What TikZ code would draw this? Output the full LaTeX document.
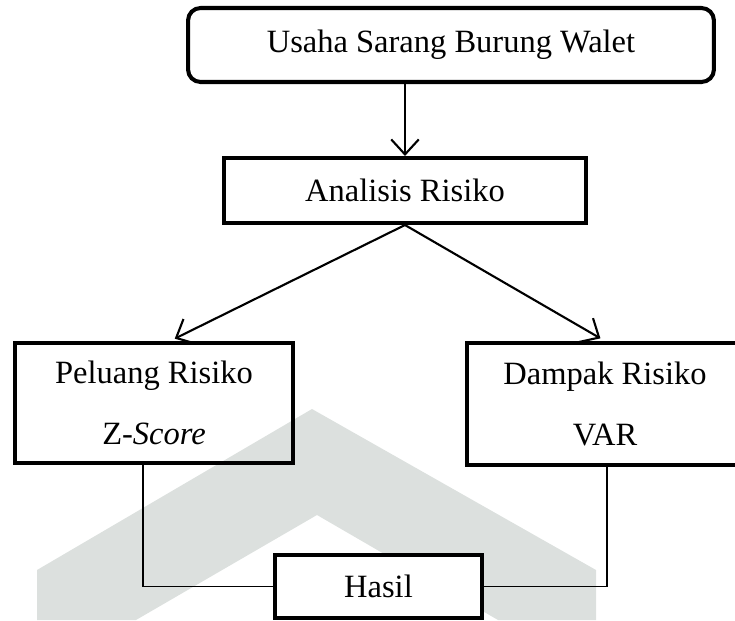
\documentclass[tikz,border=0pt]{standalone}
\usepackage{fontspec}
\setmainfont{Liberation Serif}
\usepackage{tikz}
\usetikzlibrary{arrows.meta}
\definecolor{wmgrey}{RGB}{220,224,222}
\tikzstyle{box} = [draw, line width=2.3pt, fill=white, inner sep=0pt, align=center, font=\fontsize{18.5}{22}\selectfont]
\tikzstyle{arrow} = [line width=1.2pt, -{Straight Barb[length=0.3cm, width=0.55cm, line width=1.2pt]}]
\tikzstyle{link} = [line width=0.6pt]

\begin{document}
\begin{tikzpicture}[x=0.02cm, y=-0.02cm]
		\useasboundingbox (0,0) rectangle (735,620);

		% watermark
		\fill[wmgrey] (312,409) -- (37,570) -- (37,620) -- (136,620) -- (317,515)
			-- (498,620) -- (596,620) -- (596,570) -- cycle;

		\node[box, rounded corners=0.25cm, minimum width=10.52cm, minimum height=1.48cm] (usaha) at (451,45) {Usaha Sarang Burung Walet};
		\node[box, minimum width=7.24cm, minimum height=1.3cm] (analisis) at (405,190.5) {Analisis Risiko};
		\node[box, fill=none, minimum width=5.56cm, minimum height=2.4cm] (peluang) at (154,403) {Peluang Risiko\\[13pt] Z-\textit{Score}};
		\node[box, fill=none, minimum width=5.52cm, minimum height=2.44cm] (dampak) at (605,404) {Dampak Risiko\\[13pt] VAR};
		\node[box, minimum width=4.14cm, minimum height=1.26cm] (hasil) at (378.5,586.5) {Hasil};

		\draw[arrow] (analisis.north |- usaha.south) -- (analisis.north);
		\draw[arrow, shorten >=3pt] (analisis.south) -- ([xshift=0.32cm]peluang.north);
		\draw[arrow, shorten >=3pt] (analisis.south) -- (dampak.north);

		\draw[link] ([xshift=-0.22cm]peluang.south) |- (hasil.west);
		\draw[link] ([xshift=0.04cm]dampak.south) |- (hasil.east);
	\end{tikzpicture}
\end{document}
